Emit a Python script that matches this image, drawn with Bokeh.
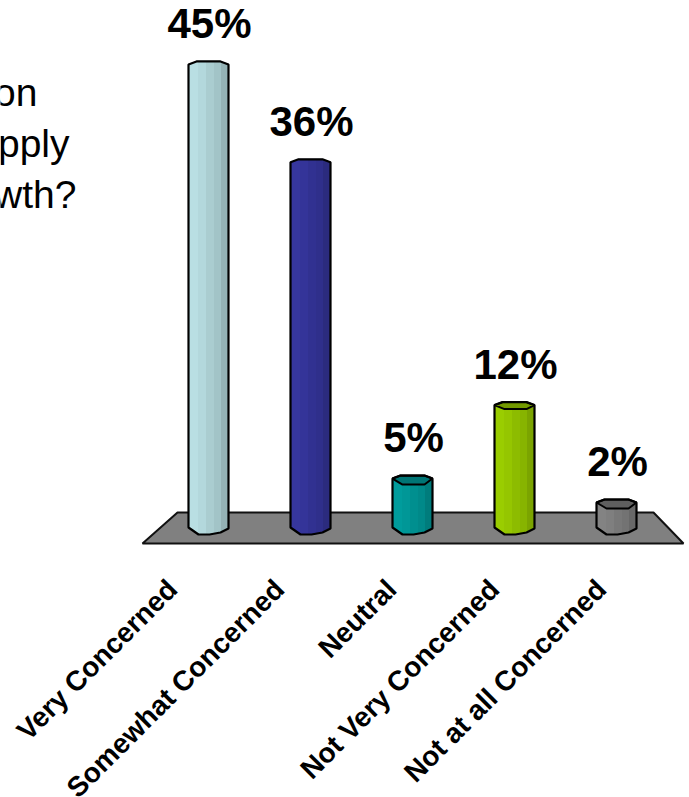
import numpy as np
from bokeh.plotting import figure
from bokeh.models import Range1d
from bokeh.core.properties import value
from bokeh.embed import file_html
from bokeh.resources import INLINE

categories = ["Very Concerned", "Somewhat Concerned", "Neutral", "Not Very Concerned", "Not at all Concerned"]
labels = ["45%", "36%", "5%", "12%", "2%"]
values = [45.4, 35.8, 4.8, 12.0, 2.45]
colors = ["#B9DFE3", "#36369E", "#009C9C", "#9ACD00", "#838383"]
cap_colors = ["#B9DFE3", "#36369E", "#007575", "#739900", "#5F5F5F"]
cap_depth = [0, 0, 6, 4, 6]
question = ["on", "pply", "wth?"]

W, H = 689, 797
SPACING, X0 = 102.0, 208.0   # px per category, px of first category
UNIT, Y0 = 10.2, 527.0       # px per percent, px of 0%
px = lambda v: v / SPACING
py = lambda v: v / UNIT

p = figure(width=W, height=H, output_backend="svg", toolbar_location=None,
           x_range=Range1d(-X0 / SPACING, (W - X0) / SPACING),
           y_range=Range1d((Y0 - H) / UNIT, Y0 / UNIT),
           min_border=0, outline_line_color=None)
p.axis.visible = False
p.grid.visible = False
p.background_fill_color = "white"

# floor
p.patch([px(142 - X0), px(177 - X0), px(653 - X0), px(683 - X0)],
        [py(Y0 - 543), py(Y0 - 512), py(Y0 - 512), py(Y0 - 543)],
        fill_color="#808080", line_color="#111111", line_width=2)

U_BOT, D_BOT = [-20, -10, 1, 12, 20], [0, 7, 7, 5, 1]
U_TOP, D_TOP = [-20, -12, 12, 20], [0, -3, -3, 0]
FACETS = [-20, -10, -2, 6, 13, 20]
SHADE = [1.0, 0.97, 0.92, 0.88, 0.8]


def shade(hex_color, f):
    r, g, b = (int(hex_color[i:i + 2], 16) for i in (1, 3, 5))
    return "#%02X%02X%02X" % (int(r * f), int(g * f), int(b * f))


for i, (v, c, cc, d) in enumerate(zip(values, colors, cap_colors, cap_depth)):
    for j, f in enumerate(SHADE):
        us = np.linspace(FACETS[j], FACETS[j + 1], 6)
        top = v - py(np.interp(us, U_TOP, D_TOP))
        bot = -py(np.interp(us, U_BOT, D_BOT))
        col = shade(c, f)
        p.patch(list(i + px(us)) + list(i + px(us[::-1])), list(top) + list(bot[::-1]),
                fill_color=col, line_color=col, line_width=1)
    if d > 0:
        uc = [-20, -12, 12, 20, 12, -10]
        dc = [0, -3, -3, 0, d, d]
        p.patch([i + px(u) for u in uc], [v - py(w) for w in dc],
                fill_color=cc, line_color="#000000", line_width=2)
    us = np.array(U_TOP + U_BOT[::-1])
    ys = [v - py(w) for w in D_TOP] + [-py(w) for w in D_BOT[::-1]]
    p.patch(list(i + px(us)), ys, fill_color=None, line_color="#000000", line_width=2.2)

# value labels
p.text(x=[i + px(1) for i in range(5)], y=values, text=labels, y_offset=-41,
       text_font=value("Liberation Sans"), text_font_style="bold", text_font_size="42px",
       text_align="center", text_baseline="alphabetic", text_color="#000000")

# category labels
cat_x = [px(172 - X0), px(279 - X0), px(391 - X0), px(494 - X0), px(601 - X0)]
p.text(x=cat_x, y=[py(Y0 - 584)] * 5, text=categories, angle=45, angle_units="deg",
       text_font=value("Liberation Sans"), text_font_style="bold", text_font_size="28px",
       text_align="right", text_baseline="middle", text_color="#000000")

# question fragment
p.text(x=[px(37 - X0), px(69 - X0), px(76 - X0)],
       y=[py(Y0 - 92), py(Y0 - 143), py(Y0 - 194)], text=question,
       text_font=value("Liberation Sans"), text_font_size="39px",
       text_align="right", text_baseline="alphabetic", text_color="#000000")

open("out.html", "w").write(file_html(p, INLINE))
